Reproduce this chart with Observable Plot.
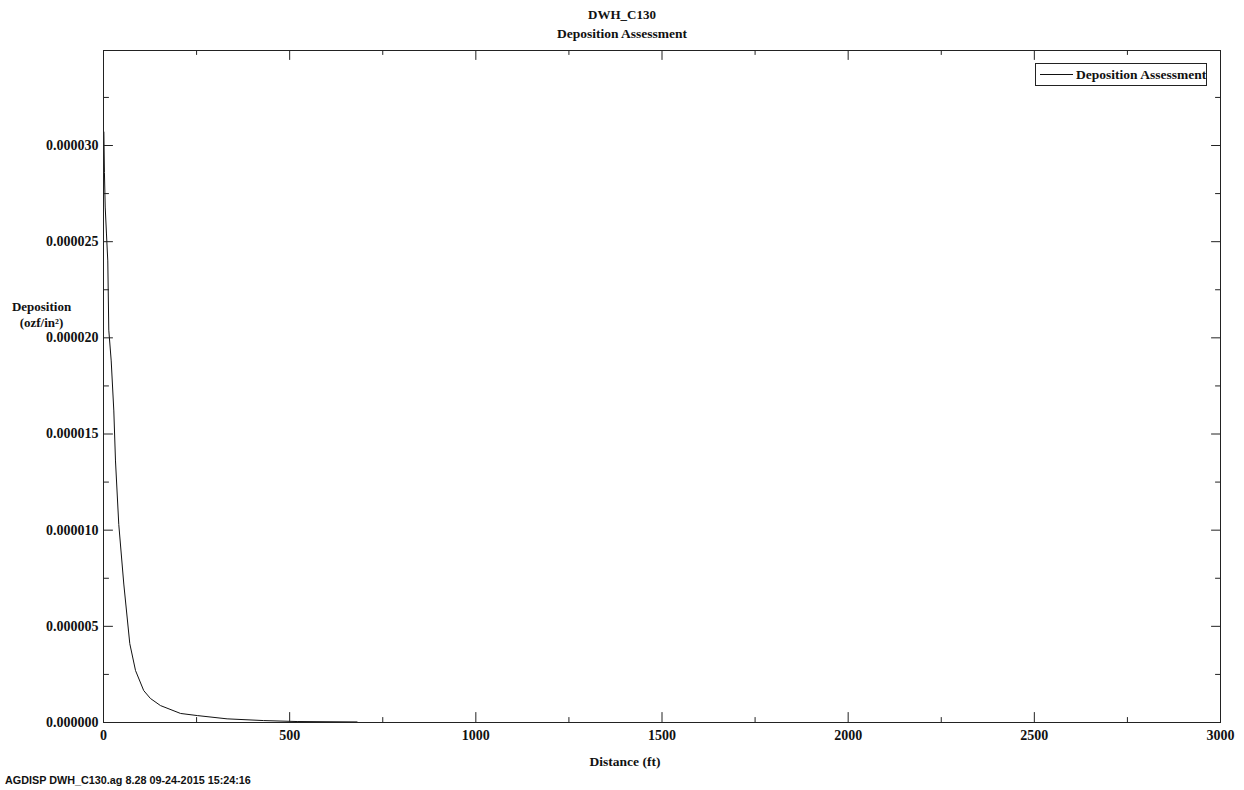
<!DOCTYPE html>
<html><head><meta charset="utf-8">
<script src="https://cdn.jsdelivr.net/npm/d3@7"></script>
<script src="https://cdn.jsdelivr.net/npm/@observablehq/plot@0.6"></script>
<style>
html,body{margin:0;padding:0;background:#fff;}
#wrap{position:relative;width:1244px;height:790px;overflow:hidden;font-family:"Liberation Serif","Times New Roman",serif;color:#111;}
#titles{position:relative;height:46px;font-weight:bold;}
#t1{position:absolute;top:6px;left:0;width:1244px;text-align:center;font-size:13px;line-height:18px;}
#t2{position:absolute;top:25px;left:0;width:1244px;text-align:center;font-size:13.5px;line-height:18px;}
#plot svg{display:block;}
#legend{position:absolute;left:1035px;top:63px;width:170px;height:21px;border:1px solid #222;background:#fff;font-weight:bold;font-size:13.5px;}
#legend .ln{position:absolute;left:4px;top:10px;width:33px;border-top:1px solid #111;}
#legend .tx{position:absolute;left:40px;top:2px;line-height:17px;white-space:nowrap;}
#ylab{position:absolute;left:0;top:299px;width:83px;text-align:center;font-weight:bold;font-size:13px;line-height:16px;}
#xlab{position:absolute;left:0;top:753px;width:1250px;text-align:center;font-weight:bold;font-size:13.5px;line-height:18px;}
#foot{position:absolute;left:5px;top:773px;font-family:"Liberation Sans",Arial,sans-serif;font-weight:bold;font-size:10.8px;line-height:14px;white-space:nowrap;}
</style></head>
<body>
<div id="wrap">
  <div id="titles"><div id="t1">DWH_C130</div><div id="t2">Deposition Assessment</div></div>
  <div id="plot"></div>
  <div id="legend"><div class="ln"></div><div class="tx">Deposition Assessment</div></div>
  <div id="ylab">Deposition<br>(ozf/in²)</div>
  <div id="xlab">Distance (ft)</div>
  <div id="foot">AGDISP DWH_C130.ag 8.28 09-24-2015 15:24:16</div>
</div>
<script>
// Data
const distance   = [1, 2.5, 4.6, 8, 11.5, 14.2, 20.7, 27.7, 32.2, 41, 54.5, 70.6, 86, 108, 126, 153, 207, 252, 332, 430, 520, 681];
const deposition = [3.07e-5, 2.86e-5, 2.68e-5, 2.54e-5, 2.40e-5, 2.04e-5, 1.88e-5, 1.62e-5, 1.36e-5, 1.03e-5, 7.2e-6, 4.1e-6, 2.7e-6, 1.66e-6, 1.25e-6, 8.8e-7, 4.7e-7, 3.6e-7, 1.9e-7, 1.0e-7, 5e-8, 3e-8];
const xTicks  = [0, 500, 1000, 1500, 2000, 2500, 3000];
const xMinor  = [250, 750, 1250, 1750, 2250, 2750];
const yTicks  = [0, 0.000005, 0.00001, 0.000015, 0.00002, 0.000025, 0.00003];
const yMinor  = [0.0000025, 0.0000075, 0.0000125, 0.0000175, 0.0000225, 0.0000275, 0.0000325];

const table = distance.map((d, i) => ({distance: d, deposition: deposition[i]}));
const tickShape = {draw(context, l) { context.moveTo(0, 0); context.lineTo(0, -l); }};
const tickStyle = {stroke: "#222", strokeWidth: 1, anchor: "start", shape: tickShape};

const chart = Plot.plot({
  width: 1244,
  height: 744,
  marginLeft: 103,
  marginRight: 24,
  marginTop: 4,
  marginBottom: 68,
  style: {fontFamily: "Liberation Serif, Times New Roman, serif", fontSize: "14px", fontWeight: "bold", color: "#111", background: "#fff"},
  x: {domain: [0, 3000]},
  y: {domain: [0, 3.494e-5]},
  marks: [
    Plot.line(table, {x: "distance", y: "deposition", stroke: "#111", strokeWidth: 1}),
    // inward ticks: bottom / top
    Plot.vector(xTicks, {x: d => d, frameAnchor: "bottom", rotate: 0, length: 10, ...tickStyle}),
    Plot.vector(xMinor, {x: d => d, frameAnchor: "bottom", rotate: 0, length: 5, ...tickStyle}),
    Plot.vector(xTicks, {x: d => d, frameAnchor: "top", rotate: 180, length: 9, ...tickStyle}),
    Plot.vector(xMinor, {x: d => d, frameAnchor: "top", rotate: 180, length: 4, ...tickStyle}),
    // inward ticks: left / right
    Plot.vector(yTicks, {y: d => d, frameAnchor: "left", rotate: 90, length: 9, ...tickStyle}),
    Plot.vector(yMinor, {y: d => d, frameAnchor: "left", rotate: 90, length: 5, ...tickStyle}),
    Plot.vector(yTicks, {y: d => d, frameAnchor: "right", rotate: -90, length: 9, ...tickStyle}),
    Plot.vector(yMinor, {y: d => d, frameAnchor: "right", rotate: -90, length: 5, ...tickStyle}),
    Plot.axisX(xTicks, {tickSize: 0, tickPadding: 8, tickFormat: d3.format("d"), label: null}),
    Plot.axisY(yTicks, {tickSize: 0, tickPadding: 5, tickFormat: d3.format(".6f"), label: null}),
    Plot.frame({stroke: "#222", strokeWidth: 1})
  ]
});
document.getElementById("plot").appendChild(chart);
</script>
</body></html>
